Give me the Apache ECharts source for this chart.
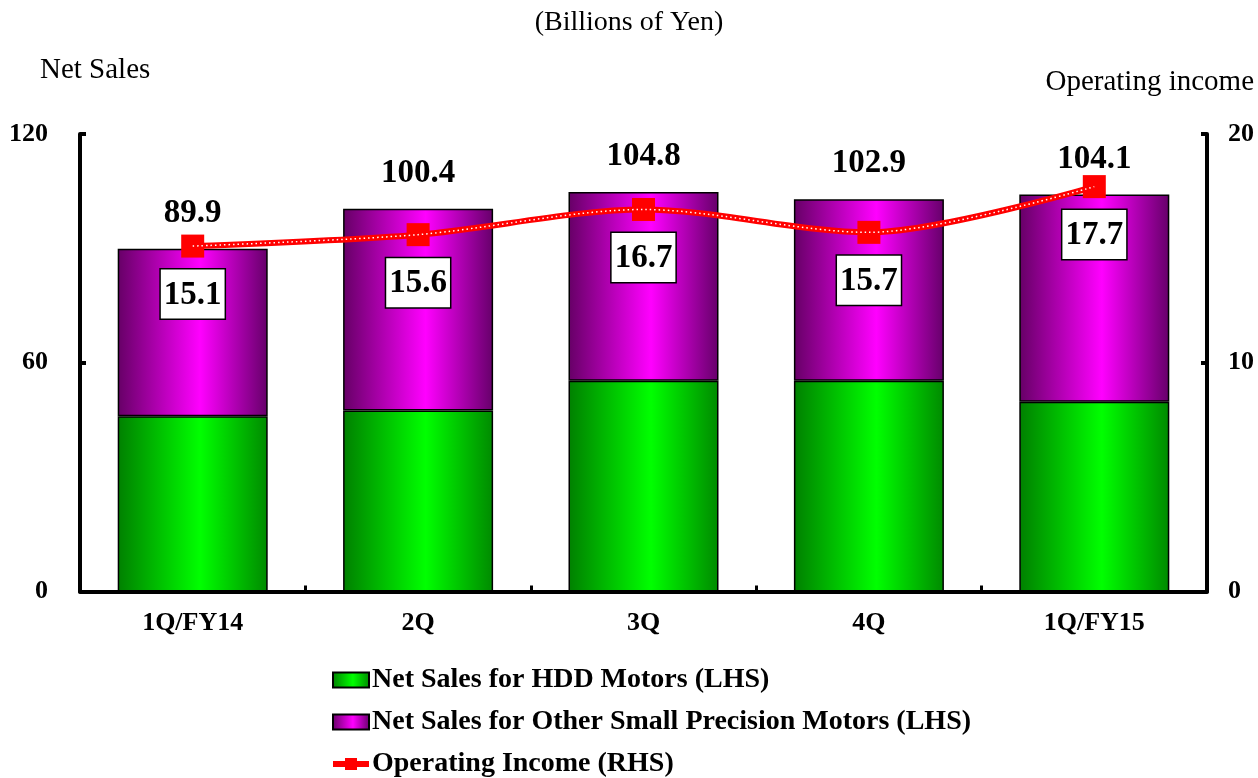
<!DOCTYPE html>
<html>
<head>
<meta charset="utf-8">
<script src="https://cdn.jsdelivr.net/npm/echarts@6/dist/echarts.min.js"></script>
<style>
  html, body { margin: 0; padding: 0; background: #fff; }
  #chart { width: 1258px; height: 778px; }
</style>
</head>
<body>
<div id="chart"></div>
<script>
// Quarterly net sales (billions of yen) split by motor type, plus operating income
const categories = ['1Q/FY14', '2Q', '3Q', '4Q', '1Q/FY15'];
const hddSales = [46.0, 47.5, 55.3, 55.3, 49.8];
const otherSales = [43.9, 52.9, 49.5, 47.6, 54.3];
const operatingIncome = [15.1, 15.6, 16.7, 15.7, 17.7];
const leftTicks = [0, 60, 120];
const rightTicks = [0, 10, 20];

const FONT = '"Liberation Serif", "DejaVu Serif", serif';

function barGradient(dark, bright, darkRight) {
  return new echarts.graphic.LinearGradient(0, 0, 1, 0, [
    { offset: 0, color: dark },
    { offset: 0.55, color: bright },
    { offset: 1, color: darkRight }
  ]);
}

const greenFill = barGradient('#008000', '#00ff00', '#008a00');
const purpleFill = barGradient('#660066', '#ff00ff', '#66006a');

const chart = echarts.init(document.getElementById('chart'), null, { renderer: 'canvas' });

chart.setOption({
  backgroundColor: '#ffffff',
  animation: false,
  textStyle: { fontFamily: FONT },
  graphic: [
    { type: 'text', left: 'center', top: 9,
      style: { text: '(Billions of Yen)', font: '28px ' + FONT, fill: '#000' } },
    { type: 'text', left: 40, top: 56,
      style: { text: 'Net Sales', font: '29px ' + FONT, fill: '#000' } },
    { type: 'text', right: 4, top: 68,
      style: { text: 'Operating income', font: '29px ' + FONT, fill: '#000' } }
  ],
  grid: { left: 80, right: 51, top: 134, bottom: 186.5, containLabel: false },
  legend: {
    orient: 'vertical',
    left: 330,
    top: 666,
    height: 140,
    padding: 0,
    itemWidth: 36,
    itemHeight: 15,
    itemGap: 14,
    data: [
      { name: 'Net Sales for HDD Motors (LHS)', icon: 'rect' },
      { name: 'Net Sales for Other Small Precision Motors (LHS)', icon: 'rect' },
      { name: 'Operating Income (RHS)', lineStyle: { width: 6, color: '#ff0000' } }
    ],
    textStyle: { fontFamily: FONT, fontSize: 28, fontWeight: 'bold', color: '#000', lineHeight: 28, padding: [0, 0, 0, -2] }
  },
  xAxis: {
    type: 'category',
    data: categories,
    axisLine: { lineStyle: { color: '#000', width: 4 } },
    axisTick: { show: true, inside: true, length: 6, lineStyle: { color: '#000', width: 3 } },
    axisLabel: { margin: 19, fontFamily: FONT, fontSize: 26, fontWeight: 'bold', color: '#000' }
  },
  yAxis: [
    {
      type: 'value',
      min: leftTicks[0],
      max: leftTicks[leftTicks.length - 1],
      interval: leftTicks[1] - leftTicks[0],
      position: 'left',
      splitLine: { show: false },
      axisLine: { show: true, lineStyle: { color: '#000', width: 4 } },
      axisTick: { show: true, inside: true, length: 6, lineStyle: { color: '#000', width: 4 } },
      axisLabel: { margin: 32, fontFamily: FONT, fontSize: 26, fontWeight: 'bold', color: '#000' }
    },
    {
      type: 'value',
      min: rightTicks[0],
      max: rightTicks[rightTicks.length - 1],
      interval: rightTicks[1] - rightTicks[0],
      position: 'right',
      splitLine: { show: false },
      axisLine: { show: true, lineStyle: { color: '#000', width: 4 } },
      axisTick: { show: true, inside: true, length: 6, lineStyle: { color: '#000', width: 4 } },
      axisLabel: { margin: 21, fontFamily: FONT, fontSize: 26, fontWeight: 'bold', color: '#000' }
    }
  ],
  series: [
    {
      name: 'Net Sales for HDD Motors (LHS)',
      type: 'bar',
      stack: 'sales',
      barWidth: 150,
      data: hddSales,
      itemStyle: { color: greenFill, borderColor: '#000', borderWidth: 1.5 }
    },
    {
      name: 'Net Sales for Other Small Precision Motors (LHS)',
      type: 'bar',
      stack: 'sales',
      barWidth: 150,
      data: otherSales,
      itemStyle: { color: purpleFill, borderColor: '#000', borderWidth: 1.5 },
      label: {
        show: true,
        position: 'top',
        distance: 19,
        fontFamily: FONT,
        fontSize: 33,
        fontWeight: 'bold',
        color: '#000',
        formatter: p => (hddSales[p.dataIndex] + otherSales[p.dataIndex]).toFixed(1)
      }
    },
    {
      name: 'Operating Income (RHS)',
      type: 'line',
      yAxisIndex: 1,
      data: operatingIncome,
      smooth: 0.3,
      z: 5,
      symbol: 'rect',
      symbolSize: 23,
      itemStyle: { color: '#ff0000' },
      lineStyle: { color: '#ff0000', width: 6 },
      label: {
        show: true,
        position: 'bottom',
        distance: 12,
        fontFamily: FONT,
        fontSize: 33,
        fontWeight: 'bold',
        color: '#000',
        backgroundColor: '#fff',
        borderColor: '#000',
        borderWidth: 1.5,
        padding: [9, 3, 7, 3],
        formatter: p => p.value.toFixed(1)
      }
    },
    {
      // white dotted pattern running along the operating income line
      name: 'income-dots',
      type: 'line',
      yAxisIndex: 1,
      data: operatingIncome,
      smooth: 0.3,
      z: 6,
      silent: true,
      symbol: 'none',
      lineStyle: { color: '#ffffff', width: 1.5, type: [1.5, 3] }
    }
  ]
});
</script>
</body>
</html>
